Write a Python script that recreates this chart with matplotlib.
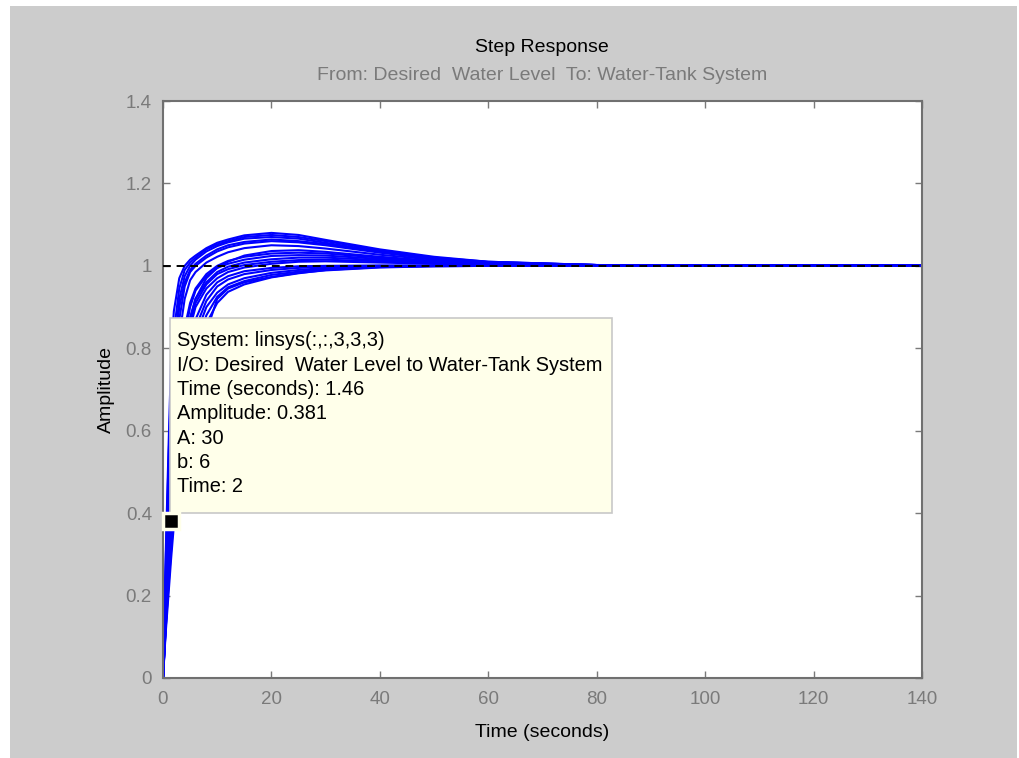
import matplotlib

matplotlib.use("Agg")

import matplotlib.pyplot as plt
from matplotlib.patches import Rectangle

plt.rcParams["font.family"] = ["Liberation Sans", "DejaVu Sans"]

# sample times (s) shared by all responses
time_s = [0, 0.5, 1, 1.5, 2, 3, 4, 5, 6, 8, 10, 12, 15, 20, 25, 30, 40, 50, 60, 80, 140]

# step responses, fastest / highest overshoot first
resp_1 = [0, 0.30, 0.55, 0.78, 0.89, 0.97, 1.0, 1.015, 1.025, 1.043, 1.056, 1.064, 1.074, 1.08, 1.075, 1.063, 1.04, 1.022, 1.01, 1.002, 1.0]
resp_2 = [0, 0.28, 0.52, 0.72, 0.84, 0.945, 0.99, 1.008, 1.02, 1.04, 1.052, 1.06, 1.07, 1.075, 1.07, 1.06, 1.038, 1.02, 1.01, 1.002, 1.0]
resp_3 = [0, 0.25, 0.48, 0.66, 0.79, 0.92, 0.975, 1.0, 1.015, 1.035, 1.048, 1.057, 1.066, 1.07, 1.066, 1.056, 1.035, 1.019, 1.009, 1.002, 1.0]
resp_4 = [0, 0.24, 0.45, 0.63, 0.76, 0.90, 0.96, 0.99, 1.005, 1.025, 1.04, 1.05, 1.058, 1.064, 1.06, 1.053, 1.034, 1.018, 1.009, 1.002, 1.0]
resp_5 = [0, 0.22, 0.42, 0.60, 0.72, 0.87, 0.95, 0.985, 1.0, 1.02, 1.035, 1.045, 1.054, 1.06, 1.057, 1.05, 1.032, 1.017, 1.008, 1.002, 1.0]
resp_6 = [0, 0.20, 0.38, 0.54, 0.67, 0.83, 0.92, 0.965, 0.985, 1.008, 1.022, 1.033, 1.043, 1.05, 1.048, 1.042, 1.027, 1.015, 1.007, 1.002, 1.0]
resp_7 = [0, 0.13, 0.26, 0.38, 0.49, 0.66, 0.79, 0.87, 0.92, 0.97, 0.995, 1.01, 1.025, 1.036, 1.038, 1.034, 1.022, 1.012, 1.006, 1.001, 1.0]
resp_8 = [0, 0.18, 0.34, 0.48, 0.60, 0.76, 0.85, 0.91, 0.945, 0.98, 1.0, 1.012, 1.022, 1.03, 1.032, 1.03, 1.02, 1.011, 1.005, 1.001, 1.0]
resp_9 = [0, 0.17, 0.32, 0.46, 0.57, 0.73, 0.83, 0.90, 0.94, 0.975, 0.995, 1.005, 1.015, 1.024, 1.026, 1.025, 1.017, 1.01, 1.005, 1.001, 1.0]
resp_10 = [0, 0.16, 0.30, 0.43, 0.54, 0.70, 0.80, 0.875, 0.92, 0.96, 0.985, 0.998, 1.008, 1.016, 1.02, 1.02, 1.014, 1.008, 1.004, 1.001, 1.0]
resp_11 = [0, 0.15, 0.29, 0.41, 0.52, 0.68, 0.79, 0.86, 0.91, 0.955, 0.98, 0.992, 1.002, 1.01, 1.014, 1.015, 1.011, 1.006, 1.003, 1.0, 1.0]
resp_12 = [0, 0.15, 0.28, 0.40, 0.50, 0.66, 0.77, 0.85, 0.90, 0.945, 0.97, 0.985, 0.996, 1.005, 1.01, 1.011, 1.008, 1.005, 1.002, 1.0, 1.0]
resp_13 = [0, 0.14, 0.26, 0.37, 0.47, 0.62, 0.73, 0.81, 0.87, 0.93, 0.96, 0.975, 0.987, 0.995, 0.999, 1.0, 1.001, 1.001, 1.0, 1.0, 1.0]
resp_14 = [0, 0.13, 0.25, 0.36, 0.45, 0.60, 0.71, 0.79, 0.85, 0.915, 0.95, 0.967, 0.98, 0.99, 0.995, 0.998, 1.0, 1.0, 1.0, 1.0, 1.0]
resp_15 = [0, 0.13, 0.24, 0.34, 0.43, 0.57, 0.68, 0.77, 0.83, 0.90, 0.935, 0.955, 0.97, 0.983, 0.99, 0.995, 0.999, 1.0, 1.0, 1.0, 1.0]
resp_16 = [0, 0.12, 0.23, 0.32, 0.41, 0.55, 0.655, 0.745, 0.805, 0.88, 0.925, 0.948, 0.963, 0.978, 0.986, 0.993, 0.998, 1.0, 1.0, 1.0, 1.0]
resp_17 = [0, 0.12, 0.22, 0.31, 0.39, 0.53, 0.63, 0.72, 0.78, 0.86, 0.91, 0.937, 0.955, 0.972, 0.982, 0.99, 0.997, 0.999, 1.0, 1.0, 1.0]
resp_18 = [0, 0.11, 0.20, 0.29, 0.37, 0.50, 0.60, 0.68, 0.75, 0.84, 0.92, 0.945, 0.96, 0.973, 0.983, 0.989, 0.996, 0.999, 1.0, 1.0, 1.0]
responses = [resp_1, resp_2, resp_3, resp_4, resp_5, resp_6, resp_7, resp_8, resp_9,
             resp_10, resp_11, resp_12, resp_13, resp_14, resp_15, resp_16, resp_17, resp_18]

final_value = 1.0
tip_time, tip_amp = 1.46, 0.381
tip_lines = [
    "System: linsys(:,:,3,3,3)",
    "I/O: Desired  Water Level to Water-Tank System",
    "Time (seconds): 1.46",
    "Amplitude: 0.381",
    "A: 30",
    "b: 6",
    "Time: 2",
]
x_ticks = [0, 20, 40, 60, 80, 100, 120, 140]
y_ticks = [0, 0.2, 0.4, 0.6, 0.8, 1, 1.2, 1.4]
y_labels = ["0", "0.2", "0.4", "0.6", "0.8", "1", "1.2", "1.4"]

W, H = 1020, 758
fig = plt.figure(figsize=(W / 100, H / 100), dpi=100, facecolor="white")
fig.patches.append(Rectangle((10 / W, 0), 1007 / W, 752 / H, transform=fig.transFigure,
                             facecolor="#cccccc", edgecolor="none", zorder=-10))

ax = fig.add_axes([163 / W, 80 / H, 759 / W, 577 / H])
ax.set_facecolor("white")

for resp in responses:
    ax.plot(time_s, resp, color="#0000ff", lw=1.5, solid_joinstyle="round", zorder=2)

ax.axhline(final_value, color="black", lw=1.4, ls=(0, (4, 3)), zorder=3)

ax.set_xlim(0, 140)
ax.set_ylim(0, 1.4)
ax.set_xticks(x_ticks)
ax.set_yticks(y_ticks)
ax.set_yticklabels(y_labels)
ax.tick_params(direction="in", length=5, width=1, colors="#7a7a7a", labelsize=13.5,
               top=True, right=True, pad=8)
ax.tick_params(axis="x", pad=9)
for sp in ax.spines.values():
    sp.set_color("#707070")
    sp.set_linewidth(1.5)

ax.set_xlabel("Time (seconds)", fontsize=14, color="black", labelpad=12)
ax.set_ylabel("Amplitude", fontsize=14, color="black", labelpad=8)
fig.text(542 / W, 1 - 47 / H, "Step Response", ha="center", va="center", fontsize=14, color="black")
fig.text(542 / W, 1 - 76 / H, "From: Desired  Water Level  To: Water-Tank System",
         ha="center", va="center", fontsize=14, color="#7a7a7a")

# data tip box
bx0, bx1 = (170 - 163) / 759, (612 - 163) / 759
by0, by1 = (678 - 513) / 577, (678 - 318) / 577
ax.add_patch(Rectangle((bx0, by0), bx1 - bx0, by1 - by0, transform=ax.transAxes,
                       facecolor="#ffffea", edgecolor="#c8c8c8", lw=1.2, zorder=5))
for i, line in enumerate(tip_lines):
    ax.text((177 - 163) / 759, (678 - 341 - i * 24.3) / 577, line, transform=ax.transAxes,
            ha="left", va="center", fontsize=14.4, color="black", zorder=6)
ax.plot([tip_time], [tip_amp], marker="s", ms=11, mfc="black", mec="#ffffea", mew=2.5,
        zorder=7, clip_on=False)

fig.savefig("out.png", dpi=100, facecolor="white")
